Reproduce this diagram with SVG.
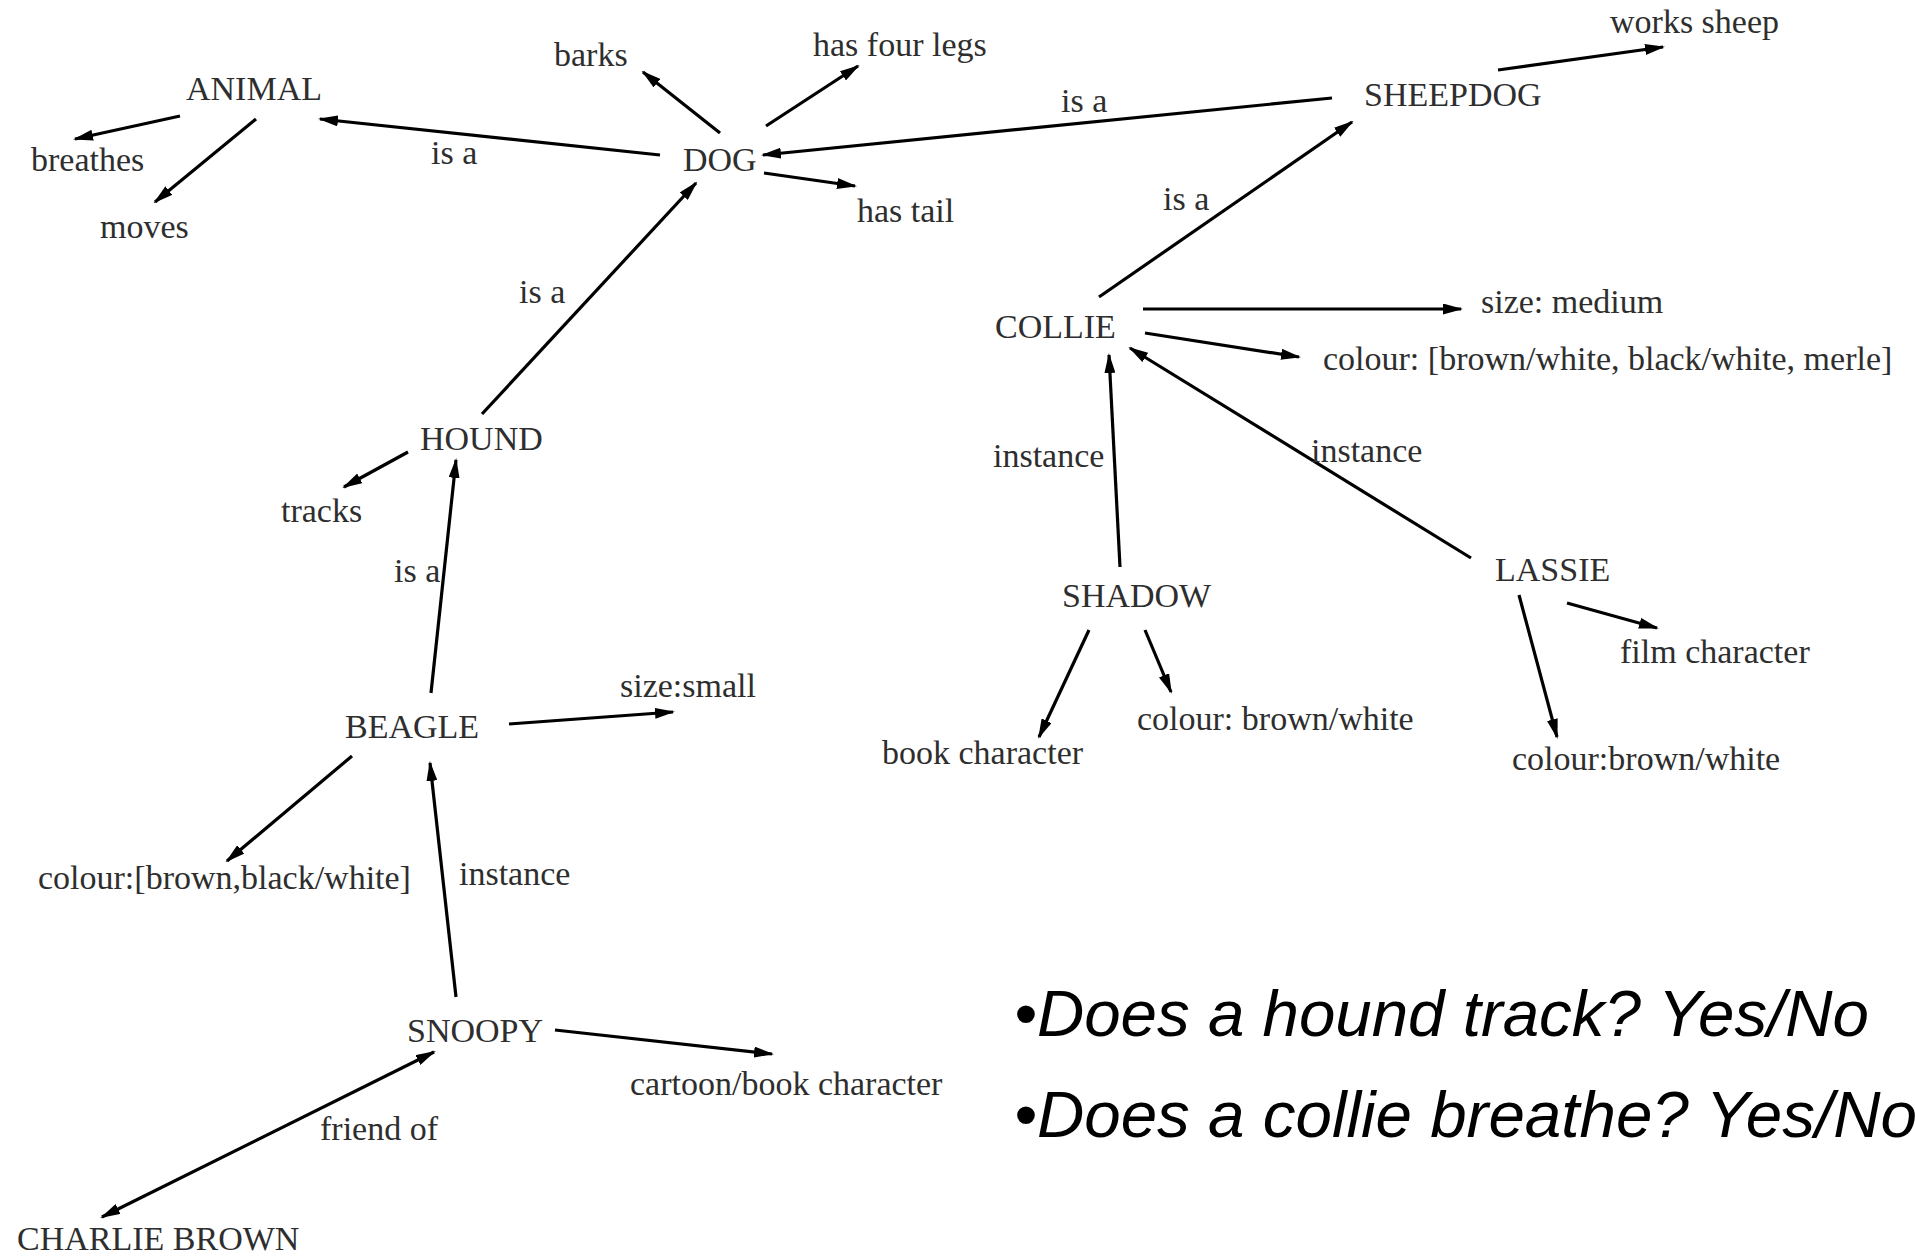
<svg xmlns="http://www.w3.org/2000/svg" width="1915" height="1257" viewBox="0 0 1915 1257">
<style>
  .n { font-family: "Liberation Serif", "Times New Roman", serif; font-size: 34px; fill: #2e2e2e; }
  .l { font-family: "Liberation Serif", "Times New Roman", serif; font-size: 34px; fill: #2e2e2e; }
  .q { font-family: "Liberation Sans", Arial, sans-serif; font-size: 64px; font-style: italic; fill: #000; }
  .e { stroke: #000; stroke-width: 3.2; fill: none; marker-end: url(#ah); }
</style>
<defs>
  <marker id="ah" viewBox="0 0 20 11" refX="18" refY="5.5" markerWidth="20" markerHeight="11" markerUnits="userSpaceOnUse" orient="auto-start-reverse">
    <path d="M0,0 L20,5.5 L0,11 z" fill="#000"/>
  </marker>
</defs>
<rect width="1915" height="1257" fill="#fff"/>

<g id="connectors">
  <line class="e" x1="180" y1="116" x2="75" y2="139"/>
  <line class="e" x1="256" y1="119" x2="155" y2="202"/>
  <line class="e" x1="660" y1="155" x2="320" y2="119"/>
  <line class="e" x1="720" y1="133" x2="643" y2="72"/>
  <line class="e" x1="766" y1="126" x2="858" y2="66"/>
  <line class="e" x1="764" y1="173" x2="855" y2="186"/>
  <line class="e" x1="1332" y1="98" x2="763" y2="155"/>
  <line class="e" x1="1498" y1="70" x2="1663" y2="47"/>
  <line class="e" x1="1099" y1="297" x2="1352" y2="122"/>
  <line class="e" x1="1143" y1="309" x2="1461" y2="309"/>
  <line class="e" x1="1145" y1="333" x2="1299" y2="357"/>
  <line class="e" x1="1120" y1="567" x2="1109" y2="355"/>
  <line class="e" x1="1471" y1="558" x2="1130" y2="348"/>
  <line class="e" x1="1089" y1="630" x2="1039" y2="737"/>
  <line class="e" x1="1145" y1="630" x2="1171" y2="692"/>
  <line class="e" x1="1567" y1="603" x2="1657" y2="628"/>
  <line class="e" x1="1519" y1="595" x2="1557" y2="737"/>
  <line class="e" x1="482" y1="414" x2="696" y2="183"/>
  <line class="e" x1="408" y1="452" x2="344" y2="487"/>
  <line class="e" x1="431" y1="693" x2="456" y2="460"/>
  <line class="e" x1="509" y1="724" x2="673" y2="712"/>
  <line class="e" x1="352" y1="756" x2="227" y2="861"/>
  <line class="e" x1="456" y1="997" x2="430" y2="763"/>
  <line class="e" x1="555" y1="1030" x2="772" y2="1054"/>
  <line class="e" x1="102" y1="1217" x2="434" y2="1052" marker-start="url(#ah)"/>
  <text class="l" x="431" y="164">is a</text>
  <text class="l" x="1061" y="112">is a</text>
  <text class="l" x="1163" y="210">is a</text>
  <text class="l" x="519" y="303">is a</text>
  <text class="l" x="394" y="582">is a</text>
  <text class="l" x="459" y="885">instance</text>
  <text class="l" x="993" y="467">instance</text>
  <text class="l" x="1311" y="462">instance</text>
  <text class="l" x="320" y="1140">friend of</text>
</g>

<g id="animal"><text class="n" x="186" y="100">ANIMAL</text></g>
<g id="breathes"><text class="n" x="31" y="171">breathes</text></g>
<g id="moves"><text class="n" x="100" y="238">moves</text></g>
<g id="barks"><text class="n" x="554" y="66">barks</text></g>
<g id="has-four-legs"><text class="n" x="813" y="56">has four legs</text></g>
<g id="dog"><text class="n" x="683" y="171">DOG</text></g>
<g id="has-tail"><text class="n" x="857" y="222">has tail</text></g>
<g id="sheepdog"><text class="n" x="1364" y="106">SHEEPDOG</text></g>
<g id="works-sheep"><text class="n" x="1610" y="33">works sheep</text></g>
<g id="collie"><text class="n" x="995" y="338">COLLIE</text></g>
<g id="size-medium"><text class="n" x="1481" y="313">size: medium</text></g>
<g id="collie-colour"><text class="n" x="1323" y="370">colour: [brown/white, black/white, merle]</text></g>
<g id="hound"><text class="n" x="420" y="450">HOUND</text></g>
<g id="tracks"><text class="n" x="281" y="522">tracks</text></g>
<g id="beagle"><text class="n" x="345" y="738">BEAGLE</text></g>
<g id="size-small"><text class="n" x="620" y="697">size:small</text></g>
<g id="beagle-colour"><text class="n" x="38" y="889">colour:[brown,black/white]</text></g>
<g id="snoopy"><text class="n" x="407" y="1042">SNOOPY</text></g>
<g id="cartoon"><text class="n" x="630" y="1095">cartoon/book character</text></g>
<g id="charlie-brown"><text class="n" x="17" y="1250">CHARLIE BROWN</text></g>
<g id="shadow"><text class="n" x="1062" y="607">SHADOW</text></g>
<g id="lassie"><text class="n" x="1495" y="581">LASSIE</text></g>
<g id="film-character"><text class="n" x="1620" y="663">film character</text></g>
<g id="book-character"><text class="n" x="882" y="764">book character</text></g>
<g id="shadow-colour"><text class="n" x="1137" y="730">colour: brown/white</text></g>
<g id="lassie-colour"><text class="n" x="1512" y="770">colour:brown/white</text></g>

<g id="questions">
  <text class="q" x="1014" y="1036" textLength="855" lengthAdjust="spacingAndGlyphs">•Does a hound track? Yes/No</text>
  <text class="q" x="1014" y="1137" textLength="903" lengthAdjust="spacingAndGlyphs">•Does a collie breathe? Yes/No</text>
</g>
</svg>
